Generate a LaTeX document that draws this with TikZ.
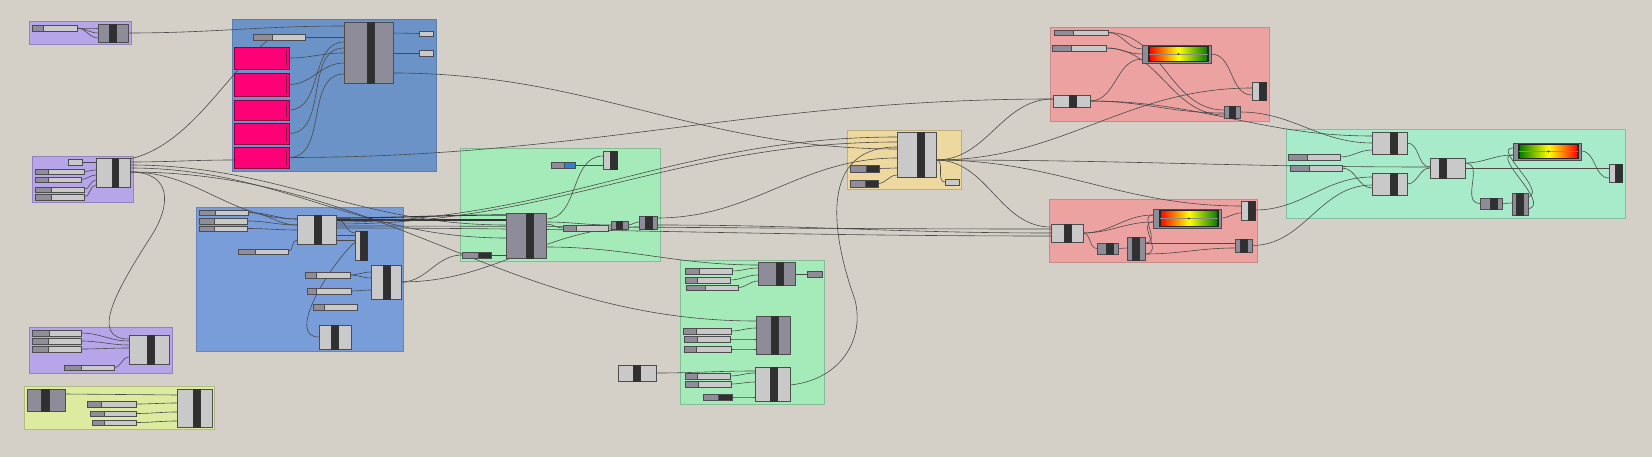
\documentclass[tikz,border=0pt]{standalone}
\usetikzlibrary{fit,calc}
\pgfdeclarelayer{grp}
\pgfdeclarelayer{wir}
\pgfsetlayers{grp,wir,main}
\definecolor{bgc}{HTML}{D4D0C8}
\definecolor{purc}{HTML}{B7A5E9}
\definecolor{bluetc}{HTML}{6B93C7}
\definecolor{bluelc}{HTML}{799DD9}
\definecolor{greenc}{HTML}{A5EBB9}
\definecolor{greenrc}{HTML}{A7EBCA}
\definecolor{ygc}{HTML}{DDEBA1}
\definecolor{tanc}{HTML}{EDD8A0}
\definecolor{pinkc}{HTML}{EBA2A0}
\definecolor{lightc}{HTML}{C9C9C9}
\definecolor{grayc}{HTML}{8D8C98}
\definecolor{darkc}{HTML}{303030}
\definecolor{bordc}{HTML}{4D4D4D}
\definecolor{sgrayc}{HTML}{8E8D99}
\definecolor{magc}{HTML}{FF0077}
\definecolor{magb}{HTML}{8A0040}
\definecolor{wirec}{HTML}{4A4A4A}
\definecolor{bluesc}{HTML}{2B80D8}
\definecolor{ggreen}{HTML}{007A00}
\tikzset{
  grpst/.style={line width=0.7pt},
  compL/.style={draw=bordc, fill=lightc, line width=0.8pt, inner sep=0pt, outer sep=0pt},
  compG/.style={draw=bordc, fill=grayc, line width=0.8pt, inner sep=0pt, outer sep=0pt},
  barst/.style={draw=black!80, fill=darkc, line width=0.6pt},
  sldst/.style={draw=bordc, line width=0.7pt, inner sep=0pt, outer sep=0pt},
  magst/.style={draw=magb, fill=magc, line width=0.8pt, inner sep=0pt, outer sep=0pt},
  wire/.style={draw=wirec, line width=0.6pt},
  twire/.style={draw=black!80, line width=1.1pt},
}
% component: name, style, x1,y1,x2,y2, bar x1, bar x2
\newcommand\gcomp[8]{\node[#2, fit={(#3,#4) (#5,#6)}] (#1) {};
  \draw[barst] (#7,#4) rectangle (#8,#6);}
% slider: name, x1,y1,x2,y2, split x, right colour
\newcommand\gslider[7]{\node[sldst, fill=#7, fit={(#2,#3) (#4,#5)}] (#1) {};
  \draw[sldst, fill=sgrayc] (#2,#3) rectangle (#6,#5);}
% gradient: name, x1,y1,x2,y2, inner x1, inner x2, left col, right col
\newcommand\ggrad[9]{\node[compG, fit={(#2,#3) (#4,#5)}] (#1) {};
  \shade[left color=#8, right color=#9, middle color=yellow] (#6,#3+1.5) rectangle (#7,#5-1.5);
  \draw[black!85, line width=1.1pt] (#6,#3+1.5) rectangle (#7,#5-1.5);
  \draw[black!45, line width=0.3pt] (#6,{(#3+#5)/2}) -- (#7,{(#3+#5)/2});
  \fill[black!75] ({(#6+#7)/2},{(#3+#5)/2}) circle[radius=1.2pt];}
% magenta box: name, y1, y2
\newcommand\magbox[3]{\node[magst, fit={(234,#2) (289,#3)}] (#1) {};
  \draw[magb, line width=0.8pt] (286,#2+3) -- (286,#3-3);}

\begin{document}
\begin{tikzpicture}[x=1pt,y=-1pt]
\useasboundingbox (0,0) rectangle (1652,457);
\begin{pgfonlayer}{grp}
\fill[bgc] (0,0) rectangle (1652,457);
\draw[grpst, fill=purc, draw=purc!80!black] (29,21) rectangle (131,44);
\draw[grpst, fill=bluetc, draw=bluetc!85!black] (232,19) rectangle (436,171);
\draw[grpst, fill=purc, draw=purc!80!black] (32,156) rectangle (133,202);
\draw[grpst, fill=bluelc, draw=bluelc!85!black] (196,207) rectangle (403,351);
\draw[grpst, fill=purc, draw=purc!80!black] (29,327) rectangle (172,373);
\draw[grpst, fill=ygc, draw=ygc!80!black] (24,386) rectangle (214,429);
\draw[grpst, fill=greenc, draw=greenc!80!black] (460,148) rectangle (660,261);
\draw[grpst, fill=greenc, draw=greenc!80!black] (680,260) rectangle (824,404);
\draw[grpst, fill=tanc, draw=tanc!80!black] (847,130) rectangle (961,189);
\draw[grpst, fill=pinkc, draw=pinkc!85!black] (1050,27) rectangle (1269,121);
\draw[grpst, fill=pinkc, draw=pinkc!85!black] (1049,199) rectangle (1257,262);
\draw[grpst, fill=greenrc, draw=greenrc!80!black] (1286,129) rectangle (1625,218);
\end{pgfonlayer}

% ---------- purple 1
\gslider{p1s}{32}{25}{77}{31}{43}{lightc}
\gcomp{p1c}{compG}{98}{24}{128}{42}{109}{116}
% ---------- blue top
\gslider{bts}{253}{34}{305}{40}{272}{lightc}
\magbox{m1}{47}{69}
\magbox{m2}{73}{96}
\magbox{m3}{100}{120}
\magbox{m4}{123}{144}
\magbox{m5}{147}{168}
\gcomp{btc}{compG}{344}{22}{393}{83}{367}{374}
\node[compL, fit={(419,31) (433,36)}] (bto1) {};
\node[compL, fit={(419,50) (433,56)}] (bto2) {};
% ---------- purple 2
\node[compL, fit={(68,159) (82,165)}] (p2b) {};
\gslider{p2s1}{35}{169}{84}{174}{48}{lightc}
\gslider{p2s2}{35}{177}{81}{182}{48}{lightc}
\gslider{p2s3}{35}{187}{84}{192}{51}{lightc}
\gslider{p2s4}{35}{194}{84}{200}{51}{lightc}
\gcomp{p2c}{compL}{96}{158}{130}{187}{112}{118}
% ---------- blue lower
\gslider{bls1}{199}{210}{248}{215}{215}{lightc}
\gslider{bls2}{199}{218}{247}{224}{214}{lightc}
\gslider{bls3}{199}{226}{247}{231}{214}{lightc}
\gcomp{blA}{compL}{297}{215}{336}{244}{314}{321}
\gslider{bls4}{238}{249}{288}{254}{255}{lightc}
\gcomp{blB}{compL}{355}{231}{367}{260}{360}{367}
\gslider{bls5}{305}{272}{350}{278}{316}{lightc}
\gslider{bls6}{307}{288}{351}{294}{316}{lightc}
\gslider{bls7}{313}{304}{357}{310}{324}{lightc}
\gcomp{blC}{compL}{371}{265}{401}{299}{383}{390}
\gcomp{blD}{compL}{319}{325}{351}{349}{331}{338}
% ---------- purple 3
\gslider{p3s1}{32}{330}{81}{336}{49}{lightc}
\gslider{p3s2}{32}{338}{81}{344}{48}{lightc}
\gslider{p3s3}{32}{346}{81}{352}{48}{lightc}
\gslider{p3s4}{64}{365}{114}{370}{81}{lightc}
\gcomp{p3c}{compL}{129}{335}{169}{364}{147}{154}
% ---------- yellow green
\gcomp{yc1}{compG}{27}{389}{65}{411}{41}{49}
\gslider{ys1}{87}{401}{136}{407}{101}{lightc}
\gslider{ys2}{90}{411}{136}{416}{104}{lightc}
\gslider{ys3}{92}{420}{136}{425}{104}{lightc}
\gcomp{yc2}{compL}{177}{389}{212}{427}{193}{200}
% ---------- mid green
\gslider{mgs1}{551}{162}{575}{168}{564}{bluesc}
\gcomp{mgc1}{compL}{603}{151}{617}{169}{610}{617}
\gcomp{mgc2}{compG}{506}{213}{546}{258}{526}{533}
\gslider{mgs2}{563}{225}{608}{231}{576}{lightc}
\gcomp{mgc3}{compG}{611}{221}{628}{229}{616}{622}
\gcomp{mgc4}{compG}{639}{216}{657}{229}{645}{652}
\gslider{mgs3}{462}{252}{491}{258}{478}{darkc}
% ---------- green 2
\gcomp{gca}{compG}{758}{262}{795}{285}{776}{783}
\node[compG, fit={(807,271) (822,277)}] (go) {};
\gslider{gs1}{685}{268}{732}{274}{699}{lightc}
\gslider{gs2}{685}{277}{730}{283}{697}{lightc}
\gslider{gs3}{686}{285}{738}{290}{705}{lightc}
\gcomp{gcb}{compG}{756}{316}{790}{354}{771}{778}
\gslider{gs4}{683}{328}{731}{334}{696}{lightc}
\gslider{gs5}{684}{336}{730}{342}{697}{lightc}
\gslider{gs6}{684}{346}{731}{352}{696}{lightc}
\gcomp{gcc}{compL}{755}{367}{790}{401}{770}{777}
\gslider{gs7}{685}{373}{730}{379}{697}{lightc}
\gslider{gs8}{685}{381}{731}{387}{698}{lightc}
\gslider{gs9}{703}{394}{732}{400}{718}{darkc}
\gcomp{gout}{compL}{618}{365}{656}{381}{633}{640}
% ---------- tan
\gcomp{tc}{compL}{897}{132}{936}{177}{917}{924}
\gslider{ts1}{850}{165}{879}{172}{866}{darkc}
\gslider{ts2}{850}{180}{878}{187}{865}{darkc}
\node[compL, fit={(945,179) (959,185)}] (tbo) {};
% ---------- pink top
\gslider{ptS1}{1054}{30}{1108}{35}{1073}{lightc}
\gslider{ptS2}{1052}{45}{1106}{51}{1071}{lightc}
\ggrad{ptG}{1142}{45}{1211}{63}{1149}{1208}{red}{ggreen}
\gcomp{ptc1}{compL}{1053}{95}{1090}{107}{1069}{1076}
\gcomp{ptc2}{compG}{1224}{106}{1240}{118}{1229}{1235}
\gcomp{ptc3}{compL}{1252}{82}{1266}{100}{1259}{1266}
% ---------- pink lower
\gcomp{plc1}{compL}{1051}{224}{1083}{242}{1064}{1071}
\gcomp{plc2}{compG}{1097}{243}{1118}{254}{1106}{1113}
\gcomp{plc3}{compG}{1127}{237}{1145}{260}{1132}{1139}
\ggrad{plG}{1153}{209}{1221}{228}{1160}{1218}{red}{ggreen}
\gcomp{plc4}{compL}{1241}{201}{1255}{220}{1248}{1255}
\gcomp{plc5}{compG}{1235}{239}{1252}{252}{1240}{1247}
% ---------- right green
\gcomp{rA}{compL}{1372}{132}{1407}{154}{1390}{1397}
\gcomp{rB}{compL}{1372}{173}{1407}{195}{1390}{1397}
\gslider{rs1}{1288}{154}{1340}{160}{1307}{lightc}
\gslider{rs2}{1290}{165}{1342}{171}{1309}{lightc}
\gcomp{rC}{compL}{1430}{158}{1465}{178}{1439}{1446}
\ggrad{rG}{1513}{143}{1581}{160}{1519}{1578}{ggreen}{red}
\gcomp{rD}{compL}{1609}{164}{1622}{182}{1615}{1622}
\gcomp{rE}{compG}{1480}{198}{1502}{209}{1490}{1497}
\gcomp{rF}{compG}{1512}{193}{1528}{215}{1516}{1523}

\begin{pgfonlayer}{wir}
% purple 1
\draw[wire] (p1s.east) to[out=0,in=180] (p1c.west |- 0,28);
\draw[wire] (p1s.east) to[out=0,in=180] (p1c.west |- 0,33);
\draw[wire] (p1s.east) to[out=0,in=180] (p1c.west |- 0,38);
\draw[wire] (p1c.east |- 0,33) to[out=0,in=180] (btc.west |- 0,26);
% blue top
\draw[wire] (bts.east) -- (btc.west |- 0,37);
\draw[wire] (m1.east) to[out=0,in=180] (btc.west |- 0,53);
\draw[wire] (m2.east) to[out=0,in=180] (btc.west |- 0,63);
\draw[wire] (m3.east) to[out=0,in=180] (btc.west |- 0,42);
\draw[wire] (m4.east) to[out=0,in=180] (btc.west |- 0,48);
\draw[wire] (m5.east) to[out=0,in=180] (btc.west |- 0,74);
\draw[wire] (btc.east |- 0,33) -- (bto1.west);
\draw[wire] (btc.east |- 0,53) -- (bto2.west);
\draw[wire] (btc.east |- 0,73) to[out=0,in=180] (tc.west |- 0,149);
\draw[wire] (m5.east) to[out=0,in=180] (ptc1.west |- 0,99);
% purple 2
\draw[wire] (p2b.east) -- (p2c.west |- 0,162);
\draw[wire] (p2s1.east) to[out=0,in=180] (p2c.west |- 0,170);
\draw[wire] (p2s2.east) to[out=0,in=180] (p2c.west |- 0,175);
\draw[wire] (p2s3.east) to[out=0,in=180] (p2c.west |- 0,180);
\draw[wire] (p2s4.east) to[out=0,in=180] (p2c.west |- 0,185);
\draw[wire] (p2c.east |- 0,162) to[out=0,in=180] (m5.west |- 0,160);
\draw[wire] (p2c.east |- 0,159) .. controls (190,145) and (225,75) .. (bts.south -| 268,0);
\draw[wire] (p2c.east |- 0,172) to[out=0,in=180] (blA.west |- 0,219);
\draw[wire] (p2c.east |- 0,172) .. controls (172,172) and (172,205) .. (150,238) .. controls (118,288) and (88,339) .. (p3c.west |- 0,339);
\draw[wire] (p2c.east |- 0,165) to[out=0,in=180] (mgc2.west |- 0,225);
\draw[wire] (p2c.east |- 0,168) to[out=0,in=180] (mgc2.west |- 0,238);
\draw[wire] (p2c.east |- 0,172) to[out=0,in=180] (gcb.west |- 0,321);
% blue lower
\draw[wire] (bls1.east) to[out=0,in=180] (blA.west |- 0,219);
\draw[wire] (bls1.east) to[out=0,in=180] (blA.west |- 0,225);
\draw[wire] (bls2.east) to[out=0,in=180] (blA.west |- 0,225);
\draw[wire] (bls3.east) to[out=0,in=180] (blA.west |- 0,230);
\draw[wire] (bls4.east) to[out=0,in=180] (blA.west |- 0,240);
\draw[wire] (blA.east |- 0,219) to[out=0,in=180] (blB.west |- 0,233);
\draw[wire] (blA.east |- 0,235) -- (blB.west |- 0,235);
\draw[wire] (blA.east |- 0,240) -- (blB.west |- 0,240);
\draw[wire] (blB.west |- 0,242) .. controls (330,265) and (285,337) .. (blD.west);
\draw[wire] (bls5.east) to[out=0,in=180] (blC.west |- 0,272);
\draw[wire] (bls5.east) to[out=0,in=180] (blC.west |- 0,278);
\draw[wire] (bls6.east) to[out=0,in=180] (blC.west |- 0,290);
\draw[twire] (blA.east |- 0,218) to[out=0,in=180] (mgc2.west |- 0,215);
\draw[twire] (blA.east |- 0,220) to[out=0,in=180] (mgc2.west |- 0,220);
\draw[wire] (blA.east |- 0,222) to[out=0,in=180] (tc.west |- 0,137);
\draw[wire] (blA.east |- 0,224) to[out=0,in=180] (tc.west |- 0,142);
\draw[wire] (blA.east |- 0,226) to[out=0,in=180] (plc1.west |- 0,229);
\draw[wire] (blA.east |- 0,228) to[out=0,in=180] (plc1.west |- 0,236);
\draw[wire] (blC.east |- 0,282) to[out=0,in=180] (mgs3.west);
\draw[wire] (blC.east |- 0,282) to[out=0,in=180] (mgc4.west |- 0,227);
% purple 3
\draw[wire] (p3s1.east) to[out=0,in=180] (p3c.west |- 0,341);
\draw[wire] (p3s2.east) to[out=0,in=180] (p3c.west |- 0,345);
\draw[wire] (p3s3.east) to[out=0,in=180] (p3c.west |- 0,348);
\draw[wire] (p3s4.east) to[out=0,in=180] (p3c.west |- 0,357);
% yellow green
\draw[wire] (yc1.east |- 0,394) -- (yc2.west |- 0,395);
\draw[wire] (ys1.east) to[out=0,in=180] (yc2.west |- 0,403);
\draw[wire] (ys2.east) to[out=0,in=180] (yc2.west |- 0,412);
\draw[wire] (ys3.east) to[out=0,in=180] (yc2.west |- 0,421);
% mid green
\draw[wire] (mgs1.east) -- (mgc1.west |- 0,165);
\draw[wire] (mgc2.east |- 0,219) to[out=0,in=180] (mgc1.west |- 0,156);
\draw[wire] (mgc2.east |- 0,224) to[out=0,in=180] (mgs2.west);
\draw[wire] (mgc2.east |- 0,222) to[out=0,in=180] (mgc3.west);
\draw[wire] (mgc3.east) to[out=0,in=180] (mgc4.west |- 0,222);
\draw[wire] (mgc2.east |- 0,247) to[out=0,in=180] (gca.west |- 0,265);
\draw[wire] (mgs3.east) -- (mgc2.west |- 0,255);
\draw[wire] (mgc4.east |- 0,218) to[out=0,in=180] (tc.west |- 0,158);
\draw[wire] (mgc4.east |- 0,225) to[out=0,in=180] (plc1.west |- 0,233);
% green 2
\draw[wire] (gca.east |- 0,274) -- (go.west);
\draw[wire] (gs1.east) to[out=0,in=180] (gca.west |- 0,268);
\draw[wire] (gs2.east) to[out=0,in=180] (gca.west |- 0,275);
\draw[wire] (gs3.east) to[out=0,in=180] (gca.west |- 0,281);
\draw[wire] (gs4.east) to[out=0,in=180] (gcb.west |- 0,328);
\draw[wire] (gs5.east) to[out=0,in=180] (gcb.west |- 0,339);
\draw[wire] (gs6.east) to[out=0,in=180] (gcb.west |- 0,349);
\draw[wire] (gs7.east) to[out=0,in=180] (gcc.west |- 0,373);
\draw[wire] (gs8.east) to[out=0,in=180] (gcc.west |- 0,382);
\draw[wire] (gs9.east) to[out=0,in=180] (gcc.west |- 0,397);
\draw[wire] (gout.east) to[out=0,in=180] (gcc.west |- 0,371);
\draw[wire] (gcc.east |- 0,385) .. controls (840,380) and (865,340) .. (855,300) .. controls (830,230) and (820,147) .. (tc.west |- 0,147);
% tan
\draw[wire] (ts1.east) -- (tc.west |- 0,168);
\draw[wire] (ts2.east) to[out=0,in=180] (tc.west |- 0,175);
\draw[wire] (tc.east |- 0,160) to[out=0,in=180] (tbo.west);
\draw[wire] (tc.east |- 0,160) to[out=0,in=180] (ptc1.west |- 0,99);
\draw[wire] (tc.east |- 0,160) to[out=0,in=180] (ptc3.west |- 0,88);
\draw[wire] (tc.east |- 0,160) to[out=0,in=180] (rC.west |- 0,167);
\draw[wire] (tc.east |- 0,160) to[out=0,in=180] (plc1.west |- 0,227);
\draw[wire] (tc.east |- 0,160) to[out=0,in=180] (plc4.west |- 0,206);
% pink top
\draw[wire] (ptS1.east) to[out=0,in=180] (ptG.west |- 0,49);
\draw[wire] (ptS1.east) to[out=0,in=180] (ptc2.west |- 0,110);
\draw[wire] (ptS2.east) to[out=0,in=180] (ptG.west |- 0,54);
\draw[wire] (ptS2.east) to[out=0,in=180] (ptc2.west |- 0,115);
\draw[wire] (ptc1.east |- 0,101) to[out=0,in=180] (ptG.west |- 0,59);
\draw[wire] (ptc1.east |- 0,101) to[out=0,in=180] (ptc2.west |- 0,113);
\draw[wire] (ptc1.east |- 0,101) to[out=0,in=180] (rA.west |- 0,136);
\draw[wire] (ptG.east |- 0,54) to[out=0,in=180] (ptc3.west |- 0,95);
\draw[wire] (ptc2.east) to[out=0,in=180] (rA.west |- 0,143);
% pink lower
\draw[wire] (plc1.east |- 0,233) to[out=0,in=180] (plc2.west);
\draw[wire] (plc1.east |- 0,233) to[out=0,in=180] (plG.west |- 0,215);
\draw[wire] (plc1.east |- 0,233) to[out=0,in=180] (plG.west |- 0,222);
\draw[wire] (plc2.east) -- (plc3.west |- 0,248);
\draw[wire] (plc3.east |- 0,243) -- (plc5.west |- 0,243);
\draw[wire] (plc3.east |- 0,254) to[out=0,in=180] (plc5.west |- 0,248);
\draw[wire] (plc3.east |- 0,243) .. controls (1162,243) and (1138,215) .. (plG.west |- 0,215);
\draw[wire] (plc3.east |- 0,254) .. controls (1165,254) and (1136,222) .. (plG.west |- 0,222);
\draw[wire] (plG.east |- 0,218) to[out=0,in=180] (plc4.west |- 0,213);
\draw[wire] (plc4.east |- 0,210) to[out=0,in=180] (rB.west |- 0,177);
\draw[wire] (plc5.east) to[out=0,in=180] (rB.west |- 0,185);
% right green
\draw[wire] (rs1.east) to[out=0,in=180] (rA.west |- 0,150);
\draw[wire] (rs2.east) to[out=0,in=180] (rB.west |- 0,188);
\draw[wire] (rA.east |- 0,143) to[out=0,in=180] (rC.west |- 0,167);
\draw[wire] (rB.east |- 0,184) to[out=0,in=180] (rC.west |- 0,168);
\draw[wire] (rC.east |- 0,163) to[out=0,in=180] (rG.west |- 0,155);
\draw[wire] (rC.east |- 0,168) -- (rD.west |- 0,168);
\draw[wire] (rC.east |- 0,163) .. controls (1485,163) and (1460,203) .. (rE.west);
\draw[wire] (rE.east) -- (rF.west |- 0,203);
\draw[wire] (rF.east |- 0,197) .. controls (1548,192) and (1492,148) .. (rG.west |- 0,148);
\draw[wire] (rF.east |- 0,209) .. controls (1552,204) and (1490,155) .. (rG.west |- 0,155);
\draw[wire] (rG.east |- 0,151) to[out=0,in=180] (rD.west |- 0,178);
\end{pgfonlayer}
\end{tikzpicture}
\end{document}
